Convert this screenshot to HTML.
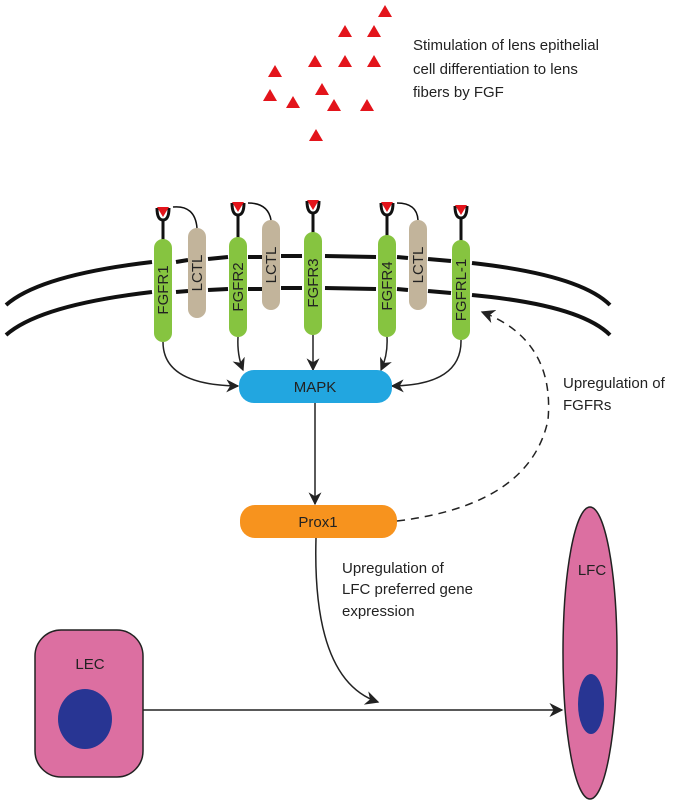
<!DOCTYPE html>
<html><head><meta charset="utf-8"><style>body{margin:0;background:#fff}svg{display:block}text{font-family:"Liberation Sans",sans-serif}</style></head>
<body>
<svg width="683" height="810" viewBox="0 0 683 810" xmlns="http://www.w3.org/2000/svg">
<defs>
<marker id="ah" viewBox="0 0 10 10" refX="9" refY="5" markerWidth="13" markerHeight="13" orient="auto" markerUnits="userSpaceOnUse"><path d="M0,0 L10,5 L0,10 L3,5 z" fill="#222"/></marker>
<marker id="ah2" viewBox="0 0 10 10" refX="9" refY="5" markerWidth="14" markerHeight="14" orient="auto" markerUnits="userSpaceOnUse"><path d="M0,0 L10,5 L0,10 L3,5 z" fill="#222"/></marker>
</defs>
<g fill="#e3141b">
<polygon points="385,5 378,17 392,17"/><polygon points="345,25 338,37 352,37"/><polygon points="374,25 367,37 381,37"/>
<polygon points="315,55 308,67 322,67"/><polygon points="345,55 338,67 352,67"/><polygon points="374,55 367,67 381,67"/>
<polygon points="275,65 268,77 282,77"/><polygon points="322,83 315,95 329,95"/><polygon points="270,89 263,101 277,101"/>
<polygon points="293,96 286,108 300,108"/><polygon points="334,99 327,111 341,111"/><polygon points="367,99 360,111 374,111"/><polygon points="316,129 309,141 323,141"/>
</g>
<text font-size="15" fill="#222"><tspan x="413" y="50">Stimulation of lens epithelial</tspan><tspan x="413" y="74">cell differentiation to lens</tspan><tspan x="413" y="97">fibers by FGF</tspan></text>
<g fill="none" stroke="#111" stroke-width="4">
<path d="M6,305 Q40,275 152,262" /><path d="M6,335 Q40,305 152,292"/>
<path d="M176,262 L188,260"/><path d="M176,292 L188,291"/>
<path d="M208,259 L228,257"/><path d="M208,290 L228,289"/>
<path d="M248,257 L262,257"/><path d="M248,289 L262,289"/>
<path d="M281,256 L302,256"/><path d="M281,288 L302,288"/>
<path d="M325,256 L376,257"/><path d="M325,288 L376,289"/>
<path d="M397,257 L408,258"/><path d="M397,289 L408,290"/>
<path d="M428,259 L451,261"/><path d="M428,291 L451,293"/>
<path d="M472,263 Q580,275 610,305"/><path d="M472,295 Q580,305 610,335"/>
</g>
<g fill="#c2b49b">
<rect x="188" y="228" width="18" height="90" rx="9"/><rect x="262" y="220" width="18" height="90" rx="9"/><rect x="409" y="220" width="18" height="90" rx="9"/>
</g>
<g fill="none" stroke="#111" stroke-width="1.5">
<path d="M173,207 Q195,205 197,228"/><path d="M248,203 Q268,203 271,220"/><path d="M397,203 Q417,203 418,220"/>
</g>
<g stroke="#111" stroke-width="3" fill="none">
<line x1="163" y1="220" x2="163" y2="240"/><line x1="238" y1="215" x2="238" y2="240"/><line x1="313" y1="213" x2="313" y2="240"/><line x1="387" y1="215" x2="387" y2="240"/><line x1="461" y1="218" x2="461" y2="245"/>
<path d="M157,208 Q157,220 163,220 Q169,220 169,208"/><path d="M232,203 Q232,215 238,215 Q244,215 244,203"/><path d="M307,201 Q307,213 313,213 Q319,213 319,201"/><path d="M381,203 Q381,215 387,215 Q393,215 393,203"/><path d="M455,206 Q455,218 461,218 Q467,218 467,206"/>
</g>
<g fill="#e3141b">
<polygon points="157,207 169,207 163,217"/><polygon points="232,202 244,202 238,212"/><polygon points="307,200 319,200 313,210"/><polygon points="381,202 393,202 387,212"/><polygon points="455,205 467,205 461,215"/>
</g>
<g fill="#86c440">
<rect x="154" y="239" width="18" height="103" rx="9"/><rect x="229" y="237" width="18" height="100" rx="9"/><rect x="304" y="232" width="18" height="103" rx="9"/><rect x="378" y="235" width="18" height="102" rx="9"/><rect x="452" y="240" width="18" height="100" rx="9"/>
</g>
<g font-size="15" fill="#222" text-anchor="middle">
<text transform="translate(168,290) rotate(-90)">FGFR1</text>
<text transform="translate(202,273) rotate(-90)">LCTL</text>
<text transform="translate(243,287) rotate(-90)">FGFR2</text>
<text transform="translate(276,265) rotate(-90)">LCTL</text>
<text transform="translate(318,283) rotate(-90)">FGFR3</text>
<text transform="translate(392,286) rotate(-90)">FGFR4</text>
<text transform="translate(423,265) rotate(-90)">LCTL</text>
<text transform="translate(466,290) rotate(-90)">FGFRL-1</text>
</g>
<g fill="none" stroke="#222" stroke-width="1.5" marker-end="url(#ah)">
<path d="M163,342 Q163,385 238,386"/>
<path d="M238,337 Q237,355 243,370"/>
<path d="M313,335 L313,370"/>
<path d="M387,337 Q388,355 381,370"/>
<path d="M461,340 Q462,385 392,386"/>
<path d="M315,403 L315,504"/>
</g>
<rect x="239" y="370" width="153" height="33" rx="15" fill="#22a6e0"/>
<text x="315" y="392" font-size="15" fill="#222" text-anchor="middle">MAPK</text>
<rect x="240" y="505" width="157" height="33" rx="15" fill="#f7931e"/>
<text x="318" y="527" font-size="15" fill="#222" text-anchor="middle">Prox1</text>
<path d="M397,521 Q530,505 548,420 Q555,340 482,312" fill="none" stroke="#222" stroke-width="1.5" stroke-dasharray="8,6" marker-end="url(#ah2)"/>
<text font-size="15" fill="#222"><tspan x="563" y="388">Upregulation of</tspan><tspan x="563" y="410">FGFRs</tspan></text>
<text font-size="15" fill="#222"><tspan x="342" y="573">Upregulation of</tspan><tspan x="342" y="594">LFC preferred gene</tspan><tspan x="342" y="616">expression</tspan></text>
<rect x="35" y="630" width="108" height="147" rx="26" fill="#dc6fa1" stroke="#222" stroke-width="1.5"/>
<ellipse cx="85" cy="719" rx="27" ry="30" fill="#283593"/>
<text x="90" y="669" font-size="15" fill="#222" text-anchor="middle">LEC</text>
<ellipse cx="590" cy="653" rx="27" ry="146" fill="#dc6fa1" stroke="#222" stroke-width="1.5"/>
<ellipse cx="591" cy="704" rx="13" ry="30" fill="#283593"/>
<text x="592" y="575" font-size="15" fill="#222" text-anchor="middle">LFC</text>
<path d="M143,710 L562,710" fill="none" stroke="#222" stroke-width="1.5" marker-end="url(#ah2)"/>
<path d="M316,538 Q312,680 378,702" fill="none" stroke="#222" stroke-width="1.5" marker-end="url(#ah2)"/>
</svg>
</body></html>
